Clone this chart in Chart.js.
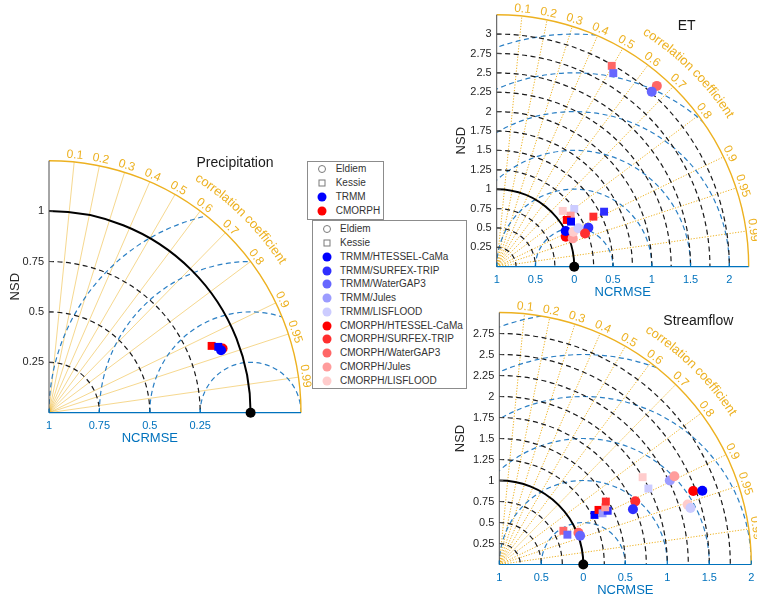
<!DOCTYPE html>
<html>
<head>
<meta charset="utf-8">
<title>Taylor diagrams</title>
<script src="https://cdn.jsdelivr.net/npm/chart.js@4.4.1/dist/chart.umd.min.js"></script>
<style>
  body { margin: 0; background: #fff; font-family: "Liberation Sans", Arial, sans-serif; }
  #wrap { position: relative; width: 757px; height: 600px; overflow: hidden; }
  #wrap canvas { position: absolute; left: 0; top: 0; }
  .legend { position: absolute; box-sizing: border-box; border: 1px solid #8c8c8c; background: #fff; font-size: 10px; color: #333; }
  .legend .row { position: absolute; left: 0; right: 0; height: 12px; line-height: 12px; white-space: nowrap; }
  .legend .mk { position: absolute; top: 6px; transform: translate(-50%, -50%); box-sizing: border-box; }
  .legend .txt { position: absolute; top: 0; }
</style>
</head>
<body>
<div id="wrap">
  <canvas id="precipChart" width="757" height="600"></canvas>
  <canvas id="etChart" width="757" height="600"></canvas>
  <canvas id="flowChart" width="757" height="600"></canvas>
  <div id="legendSmall" class="legend" style="left:307px;top:161px;width:77px;height:59px"></div>
  <div id="legendBig" class="legend" style="left:312px;top:220px;width:155px;height:169px"></div>
</div>
<script>
const sites = ['Eldiem', 'Kessie'];
const products = ['TRMM', 'CMORPH'];
const models = ['HTESSEL-CaMa', 'SURFEX-TRIP', 'WaterGAP3', 'Jules', 'LISFLOOD'];
const trmmShades = ['#0000ff', '#2e2eff', '#6666ff', '#9c9cff', '#ccccff'];
const cmorphShades = ['#ff0000', '#ff2e2e', '#ff6666', '#ff9c9c', '#ffcccc'];

const corTicks = [0.1, 0.2, 0.3, 0.4, 0.5, 0.6, 0.7, 0.8, 0.9, 0.95, 0.99];

// Precipitation
const prProduct = ['CMORPH', 'TRMM', 'CMORPH', 'TRMM'];
const prSite = ['Eldiem', 'Eldiem', 'Kessie', 'Kessie'];
const prNSD = [0.918, 0.908, 0.872, 0.901];
const prCOR = [0.938, 0.940, 0.925, 0.932];
const prNsdTicks = [0.25, 0.5, 0.75, 1];
const prNsdArcs = [0.25, 0.5, 0.75];
const prRmsArcs = [0.25, 0.5, 0.75, 1];
const prRmsAt = [0, 0.25, 0.5, 0.75];
const prRmsLabels = ['1', '0.75', '0.5', '0.25'];

// ET
const etProduct = ['CMORPH', 'TRMM', 'CMORPH', 'TRMM', 'CMORPH', 'CMORPH', 'TRMM', 'TRMM', 'CMORPH',
                   'CMORPH', 'TRMM', 'CMORPH', 'TRMM', 'CMORPH', 'CMORPH', 'TRMM', 'CMORPH', 'TRMM'];
const etModel = ['WaterGAP3', 'WaterGAP3', 'HTESSEL-CaMa', 'HTESSEL-CaMa', 'Jules', 'LISFLOOD', 'LISFLOOD', 'SURFEX-TRIP', 'SURFEX-TRIP',
                 'WaterGAP3', 'WaterGAP3', 'LISFLOOD', 'LISFLOOD', 'Jules', 'HTESSEL-CaMa', 'HTESSEL-CaMa', 'SURFEX-TRIP', 'SURFEX-TRIP'];
const etSite = ['Eldiem', 'Eldiem', 'Eldiem', 'Eldiem', 'Eldiem', 'Eldiem', 'Eldiem', 'Eldiem', 'Eldiem',
                'Kessie', 'Kessie', 'Kessie', 'Kessie', 'Kessie', 'Kessie', 'Kessie', 'Kessie', 'Kessie'];
const etNSD = [3.115, 3.016, 0.971, 1.002, 1.046, 1.087, 1.164, 1.285, 1.217,
               2.985, 2.914, 1.115, 1.247, 1.159, 1.086, 1.121, 1.404, 1.556];
const etCOR = [0.663, 0.663, 0.917, 0.888, 0.937, 0.910, 0.905, 0.920, 0.936,
               0.497, 0.516, 0.764, 0.802, 0.823, 0.832, 0.855, 0.888, 0.890];
const etNsdTicks = [0.25, 0.5, 0.75, 1, 1.25, 1.5, 1.75, 2, 2.25, 2.5, 2.75, 3];
const etNsdArcs = [0.25, 0.5, 0.75, 1.25, 1.5, 1.75, 2, 2.25, 2.5, 2.75, 3];
const etRmsArcs = [0.5, 1, 1.5, 2, 2.5, 3];
const etRmsAt = [0, 0.5, 1, 1.5, 2, 2.5, 3];
const etRmsLabels = ['1', '0.5', '0', '0.5', '1', '1.5', '2'];

// Streamflow
const sfProduct = ['CMORPH', 'TRMM', 'CMORPH', 'TRMM', 'TRMM', 'CMORPH', 'CMORPH', 'TRMM', 'CMORPH', 'TRMM',
                   'CMORPH', 'TRMM', 'TRMM', 'CMORPH', 'TRMM', 'TRMM', 'CMORPH', 'CMORPH', 'CMORPH', 'TRMM'];
const sfModel = ['WaterGAP3', 'WaterGAP3', 'SURFEX-TRIP', 'SURFEX-TRIP', 'Jules', 'Jules', 'LISFLOOD', 'LISFLOOD', 'HTESSEL-CaMa', 'HTESSEL-CaMa',
                 'WaterGAP3', 'WaterGAP3', 'HTESSEL-CaMa', 'HTESSEL-CaMa', 'Jules', 'SURFEX-TRIP', 'Jules', 'SURFEX-TRIP', 'LISFLOOD', 'LISFLOOD'];
const sfSite = ['Eldiem', 'Eldiem', 'Eldiem', 'Eldiem', 'Eldiem', 'Eldiem', 'Eldiem', 'Eldiem', 'Eldiem', 'Eldiem',
                'Kessie', 'Kessie', 'Kessie', 'Kessie', 'Kessie', 'Kessie', 'Kessie', 'Kessie', 'Kessie', 'Kessie'];
const sfNSD = [1.015, 1.021, 1.785, 1.722, 2.263, 2.334, 2.353, 2.373, 2.469, 2.571,
               0.862, 0.885, 1.278, 1.348, 1.372, 1.440, 1.433, 1.473, 1.998, 1.992];
const sfCOR = [0.928, 0.942, 0.907, 0.924, 0.897, 0.893, 0.953, 0.959, 0.935, 0.940,
               0.885, 0.916, 0.887, 0.876, 0.896, 0.896, 0.880, 0.861, 0.854, 0.891];
const sfNsdTicks = [0.25, 0.5, 0.75, 1, 1.25, 1.5, 1.75, 2, 2.25, 2.5, 2.75];
const sfNsdArcs = [0.25, 0.5, 0.75, 1.25, 1.5, 1.75, 2, 2.25, 2.5, 2.75];
const sfRmsArcs = [0.5, 1, 1.5, 2, 2.5, 3];
const sfRmsAt = [0, 0.5, 1, 1.5, 2, 2.5, 3];
const sfRmsLabels = ['1', '0.5', '0', '0.5', '1', '1.5', '2'];

const FONT = '"Liberation Sans", Arial, sans-serif';
const BLUE = '#0072bd';
const BLUE_ARC = '#2a7fc4';
const GOLD = '#EDB120';
const R_PX = 252;

function colorOf(product, model) {
  if (model === undefined) return product === 'TRMM' ? '#0000ff' : '#ff0000';
  const i = models.indexOf(model);
  return product === 'TRMM' ? trmmShades[i] : cmorphShades[i];
}

function buildDatasets(product, model, site, nsd, cor) {
  const data = [], bg = [], style = [], radius = [];
  nsd.forEach((s, i) => {
    const c = cor[i];
    data.push({ x: s * c, y: s * Math.sqrt(1 - c * c) });
    bg.push(colorOf(product[i], model ? model[i] : undefined));
    const square = site[i] === 'Kessie';
    style.push(square ? 'rect' : 'circle');
    radius.push(square ? 5.6 : 5);
  });
  return [
    { label: 'reference', data: [{ x: 1, y: 0 }], pointBackgroundColor: '#000', pointBorderWidth: 0,
      pointBorderColor: 'rgba(0,0,0,0)', pointRadius: 5, clip: false },
    { label: 'models', data, pointBackgroundColor: bg, pointBorderWidth: 0, pointBorderColor: 'rgba(0,0,0,0)',
      pointStyle: style, pointRadius: radius, clip: false }
  ];
}

function curvedText(ctx, text, ox, oy, r, centerDeg) {
  let total = 0;
  const widths = [...text].map(ch => { const w = ctx.measureText(ch).width; total += w; return w; });
  let t = centerDeg * Math.PI / 180 + total / r / 2;
  [...text].forEach((ch, i) => {
    const a = t - widths[i] / 2 / r;
    ctx.save();
    ctx.translate(ox + r * Math.cos(a), oy - r * Math.sin(a));
    ctx.rotate(Math.PI / 2 - a);
    ctx.fillText(ch, 0, 0);
    ctx.restore();
    t -= widths[i] / r;
  });
}

const taylorGrid = {
  id: 'taylorGrid',
  beforeDatasetsDraw(chart, args, o) {
    const { ctx } = chart;
    const xs = chart.scales.x, ys = chart.scales.y;
    const ox = xs.getPixelForValue(0), oy = ys.getPixelForValue(0);
    const u = xs.getPixelForValue(1) - ox;
    const R = o.max * u;
    const rx = ox + u;

    ctx.save();
    ctx.beginPath();
    ctx.moveTo(ox, oy);
    ctx.arc(ox, oy, R, 0, -Math.PI / 2, true);
    ctx.closePath();
    ctx.clip();

    // correlation rays
    ctx.lineWidth = 1;
    ctx.strokeStyle = o.rayColor;
    ctx.setLineDash(o.rayDash);
    corTicks.forEach(c => {
      const t = Math.acos(c);
      ctx.beginPath();
      ctx.moveTo(ox, oy);
      ctx.lineTo(ox + R * Math.cos(t), oy - R * Math.sin(t));
      ctx.stroke();
    });

    // NCRMSE arcs around the reference
    ctx.strokeStyle = BLUE_ARC;
    ctx.lineWidth = 1.2;
    ctx.setLineDash([5, 3.5]);
    o.rmsArcs.forEach(d => {
      ctx.beginPath();
      ctx.arc(rx, oy, d * u, Math.PI, 2 * Math.PI);
      ctx.stroke();
    });

    // NSD arcs
    ctx.strokeStyle = '#1a1a1a';
    o.nsdArcs.forEach(s => {
      ctx.beginPath();
      ctx.arc(ox, oy, s * u, -Math.PI / 2, 0);
      ctx.stroke();
    });
    ctx.restore();

    ctx.save();
    // NSD = 1
    ctx.strokeStyle = '#000';
    ctx.lineWidth = 2;
    ctx.beginPath();
    ctx.arc(ox, oy, u, -Math.PI / 2, 0);
    ctx.stroke();

    // outer arc
    ctx.strokeStyle = GOLD;
    ctx.lineWidth = 1.4;
    ctx.beginPath();
    ctx.arc(ox, oy, R, -Math.PI / 2, 0);
    ctx.stroke();

    // left axis
    ctx.strokeStyle = '#4d4d4d';
    ctx.lineWidth = 1;
    ctx.beginPath();
    ctx.moveTo(ox, oy);
    ctx.lineTo(ox, oy - R);
    o.nsdTicks.forEach(s => {
      ctx.moveTo(ox, oy - s * u);
      ctx.lineTo(ox + 4, oy - s * u);
    });
    ctx.stroke();
    ctx.fillStyle = '#262626';
    ctx.font = '11px ' + FONT;
    ctx.textAlign = 'right';
    ctx.textBaseline = 'middle';
    o.nsdTicks.forEach(s => ctx.fillText(String(s), ox - 5, oy - s * u));

    // bottom axis
    ctx.strokeStyle = BLUE;
    ctx.lineWidth = 1.2;
    ctx.beginPath();
    ctx.moveTo(ox, oy);
    ctx.lineTo(ox + R, oy);
    o.rmsAt.forEach(v => {
      ctx.moveTo(ox + v * u, oy);
      ctx.lineTo(ox + v * u, oy - 4);
    });
    ctx.stroke();
    ctx.fillStyle = BLUE;
    ctx.textAlign = 'center';
    o.rmsAt.forEach((v, i) => ctx.fillText(o.rmsLabels[i], ox + v * u, oy + 13));

    // correlation labels
    ctx.fillStyle = GOLD;
    ctx.font = '12px ' + FONT;
    corTicks.forEach(c => {
      const t = Math.acos(c);
      ctx.save();
      ctx.translate(ox + (R + 7) * Math.cos(t), oy - (R + 7) * Math.sin(t));
      ctx.rotate(Math.PI / 2 - t);
      ctx.fillText(String(c), 0, 0);
      ctx.restore();
    });
    ctx.font = '13px ' + FONT;
    curvedText(ctx, 'correlation coefficient', ox, oy, R + 26, 45.3);

    // axis titles
    ctx.font = '13px ' + FONT;
    ctx.fillStyle = BLUE;
    ctx.fillText('NCRMSE', ox + o.xTitleAt * u, oy + 26);
    ctx.fillStyle = '#262626';
    ctx.save();
    ctx.translate(ox + o.yTitleDx, oy - R / 2);
    ctx.rotate(-Math.PI / 2);
    ctx.fillText('NSD', 0, 0);
    ctx.restore();

    ctx.font = '14px ' + FONT;
    ctx.fillStyle = '#1a1a1a';
    ctx.fillText(o.title, ox + o.titleDx, oy + o.titleDy);
    ctx.restore();
  }
};

function makeTaylor(id, ox, oy, datasets, grid) {
  const ctx = document.getElementById(id).getContext('2d');
  return new Chart(ctx, {
    type: 'scatter',
    data: { datasets },
    options: {
      responsive: false,
      animation: false,
      events: [],
      layout: {
        autoPadding: false,
        padding: { left: ox, top: oy - R_PX, right: 757 - ox - R_PX, bottom: 600 - oy }
      },
      scales: {
        x: { type: 'linear', min: 0, max: grid.max, display: false },
        y: { type: 'linear', min: 0, max: grid.max, display: false }
      },
      plugins: { legend: { display: false }, tooltip: { enabled: false }, taylorGrid: grid }
    },
    plugins: [taylorGrid]
  });
}

makeTaylor('precipChart', 49, 412.7, buildDatasets(prProduct, null, prSite, prNSD, prCOR), {
  max: 1.25, nsdTicks: prNsdTicks, nsdArcs: prNsdArcs, rmsArcs: prRmsArcs, rmsAt: prRmsAt, rmsLabels: prRmsLabels,
  rayColor: 'rgba(237,177,32,0.5)', rayDash: [], xTitleAt: 0.5, yTitleDx: -34,
  title: 'Precipitation', titleDx: 186, titleDy: -250
});
makeTaylor('etChart', 496.7, 266.7, buildDatasets(etProduct, etModel, etSite, etNSD, etCOR), {
  max: 3.25, nsdTicks: etNsdTicks, nsdArcs: etNsdArcs, rmsArcs: etRmsArcs, rmsAt: etRmsAt, rmsLabels: etRmsLabels,
  rayColor: GOLD, rayDash: [1.2, 1.6], xTitleAt: 1.625, yTitleDx: -35,
  title: 'ET', titleDx: 190, titleDy: -241
});
makeTaylor('flowChart', 499.3, 564.5, buildDatasets(sfProduct, sfModel, sfSite, sfNSD, sfCOR), {
  max: 3, nsdTicks: sfNsdTicks, nsdArcs: sfNsdArcs, rmsArcs: sfRmsArcs, rmsAt: sfRmsAt, rmsLabels: sfRmsLabels,
  rayColor: GOLD, rayDash: [1.2, 1.6], xTitleAt: 1.5, yTitleDx: -39,
  title: 'Streamflow', titleDx: 199, titleDy: -243
});

// legends
function addRow(box, top, symLeft, txtLeft, marker, text) {
  const row = document.createElement('div');
  row.className = 'row';
  row.style.top = top + 'px';
  const mk = document.createElement('span');
  mk.className = 'mk';
  mk.style.left = symLeft + 'px';
  if (marker === 'circle') {
    mk.style.cssText += 'width:8px;height:8px;border:1px solid #7a7a7a;border-radius:50%;';
  } else if (marker === 'square') {
    mk.style.cssText += 'width:7px;height:7px;border:1px solid #7a7a7a;';
  } else {
    mk.style.cssText += 'width:9px;height:9px;border-radius:50%;background:' + marker + ';';
  }
  const txt = document.createElement('span');
  txt.className = 'txt';
  txt.style.left = txtLeft + 'px';
  txt.textContent = text;
  row.appendChild(mk);
  row.appendChild(txt);
  box.appendChild(row);
}

const small = document.getElementById('legendSmall');
const smallEntries = [['circle', sites[0]], ['square', sites[1]], ['#0000ff', products[0]], ['#ff0000', products[1]]];
smallEntries.forEach((e, i) => addRow(small, 1.3 + i * 13.8, 13.7, 27.7, e[0], e[1]));

const big = document.getElementById('legendBig');
const bigEntries = [['circle', sites[0]], ['square', sites[1]]];
models.forEach((m, i) => bigEntries.push([trmmShades[i], 'TRMM/' + m]));
models.forEach((m, i) => bigEntries.push([cmorphShades[i], 'CMORPH/' + m]));
bigEntries.forEach((e, i) => addRow(big, 2.3 + i * 13.76, 14.3, 27, e[0], e[1]));
</script>
</body>
</html>
